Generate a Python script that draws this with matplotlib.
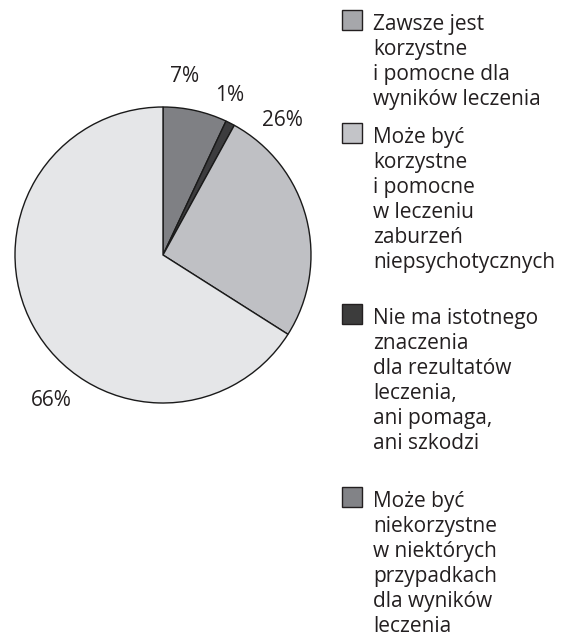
import matplotlib
matplotlib.use("Agg")
import matplotlib.pyplot as plt
from matplotlib.patches import Rectangle

plt.rcParams['font.family'] = ['Open Sans', 'DejaVu Sans']

# Data
values = [7, 1, 26, 66]
value_labels = ["7%", "1%", "26%", "66%"]
wedge_colors = ["#7f8084", "#3c3c3e", "#bfc0c4", "#e5e6e8"]

legend_labels = [
    "Zawsze jest\nkorzystne\ni pomocne dla\nwyników leczenia",
    "Może być\nkorzystne\ni pomocne\nw leczeniu\nzaburzeń\nniepsychotycznych",
    "Nie ma istotnego\nznaczenia\ndla rezultatów\nleczenia,\nani pomaga,\nani szkodzi",
    "Może być\nniekorzystne\nw niektórych\nprzypadkach\ndla wyników\nleczenia",
]
legend_colors = ["#a6a7ab", "#c3c4c8", "#3c3c3c", "#828387"]

# Layout (pixels)
W, H = 561, 637
fig = plt.figure(figsize=(W / 100, H / 100), dpi=100)
cx, cy, r = 163, 255, 148
ax = fig.add_axes([(cx - r) / W, (H - cy - r) / H, 2 * r / W, 2 * r / H])
ax.pie(values, colors=wedge_colors, startangle=90, counterclock=False,
       radius=1, wedgeprops=dict(edgecolor="#1a1a1a", linewidth=1.0))
ax.set_xlim(-1, 1)
ax.set_ylim(-1, 1)
ax.set_aspect('equal')
ax.axis('off')

FS = 15
TXT = "#231f20"
label_pos = [(0.149, 1.209), (0.453, 1.081), (0.804, 0.912), (-0.757, -0.98)]
for lab, (x, y) in zip(value_labels, label_pos):
    ax.text(x, y, lab, ha='center', va='center', fontsize=FS, color=TXT)

# Legend (drawn manually: square aligned with first text line)
sq_x, sq = 342, 20
tops = [10, 123, 304, 487]
line_h = 25
for lab, col, top in zip(legend_labels, legend_colors, tops):
    fig.add_artist(Rectangle((sq_x / W, (H - top - sq) / H), sq / W, sq / H,
                             transform=fig.transFigure, facecolor=col,
                             edgecolor=TXT, linewidth=1.0))
    for i, line in enumerate(lab.split("\n")):
        base = top + sq + i * line_h
        fig.text(373 / W, (H - base) / H, line, ha='left', va='baseline',
                 fontsize=FS, color=TXT)

fig.savefig("out.png", dpi=100)
